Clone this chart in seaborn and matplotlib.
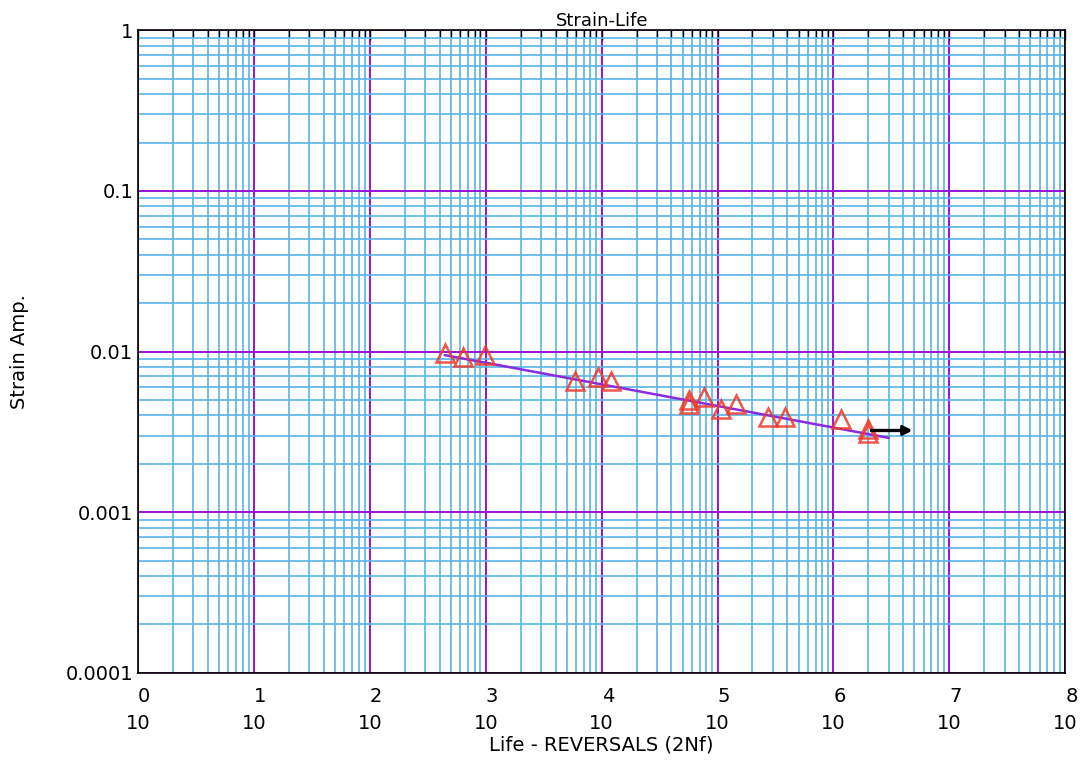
import numpy as np
import pandas as pd
import matplotlib
matplotlib.use('Agg')
import matplotlib.pyplot as plt
import seaborn as sns
from matplotlib.ticker import LogLocator, FixedLocator, FixedFormatter, NullFormatter

# test data
reversals = [443, 632, 980, 5850, 9300, 12000, 57000, 57000, 76000, 108000,
             145000, 270000, 385000, 1.17e6, 2.0e6, 2.0e6]
strain_amp = [0.0098, 0.0092, 0.0095, 0.0066, 0.0069, 0.0066, 0.0050, 0.0047,
              0.0052, 0.0044, 0.0047, 0.0039, 0.0039, 0.0038, 0.0033, 0.0031]

# runouts (arrows)
runout_n = [2.0e6, 2.0e6]
runout_e = [0.00325, 0.0032]

# fitted curve end points
fit_n = [443, 3.0e6]
fit_e = [0.0095, 0.0029]

x_ticks = [10.0 ** k for k in range(0, 9)]
x_labels = ['%d\n10' % k for k in range(0, 9)]
y_ticks = [1e-4, 1e-3, 1e-2, 1e-1, 1]
y_labels = ['0.0001', '0.001', '0.01', '0.1', '1']

sns.set_style('white')
plt.rcParams['font.family'] = ['DejaVu Sans']
plt.rcParams['text.color'] = 'black'
plt.rcParams['axes.labelcolor'] = 'black'

fig, ax = plt.subplots(figsize=(10.87, 7.76), dpi=100)
fig.subplots_adjust(left=0.127, right=0.98, top=0.961, bottom=0.133)

ax.set_xscale('log')
ax.set_yscale('log')
ax.set_xlim(1, 1e8)
ax.set_ylim(1e-4, 1)

ax.xaxis.set_major_locator(FixedLocator(x_ticks))
ax.xaxis.set_major_formatter(FixedFormatter(x_labels))
ax.xaxis.set_minor_locator(LogLocator(base=10, subs=np.arange(2, 10), numticks=20))
ax.xaxis.set_minor_formatter(NullFormatter())
ax.yaxis.set_major_locator(FixedLocator(y_ticks))
ax.yaxis.set_major_formatter(FixedFormatter(y_labels))
ax.yaxis.set_minor_locator(LogLocator(base=10, subs=np.arange(2, 10), numticks=20))
ax.yaxis.set_minor_formatter(NullFormatter())

ax.grid(which='minor', color='#5ab4e6', linewidth=1.2, zorder=1)
ax.grid(which='major', color='#9a12d6', linewidth=1.4, zorder=1)
ax.set_axisbelow(True)

ax.tick_params(which='both', direction='in', top=True, right=False, length=5,
               width=1, labelsize=14, colors='black')
ax.tick_params(which='major', length=7)
ax.tick_params(axis='x', pad=10)
for lab in ax.get_xticklabels():
    lab.set_multialignment('right')
    lab.set_linespacing(1.55)

for s in ax.spines.values():
    s.set_color('black')
    s.set_linewidth(1.2)

sns.lineplot(x=fit_n, y=fit_e, ax=ax, color='#8a2be2', linewidth=1.8, zorder=3)

df = pd.DataFrame({'N': reversals, 'e': strain_amp})
ax.plot(df['N'], df['e'], linestyle='none', marker='^', markersize=13,
        markerfacecolor='none', markeredgecolor='#ee3a2a', markeredgewidth=1.8,
        alpha=0.85, zorder=4)

for n, e in zip(runout_n, runout_e):
    ax.annotate('', xy=(n * 2.5, e), xytext=(n, e),
                arrowprops=dict(arrowstyle='-|>', color='black', lw=1.6,
                                mutation_scale=14), zorder=5)

ax.set_title('Strain-Life', fontsize=13, pad=3, color='black')
ax.set_xlabel('Life - REVERSALS (2Nf)', fontsize=14, labelpad=2)
ax.set_ylabel('Strain Amp.', fontsize=14, labelpad=26)

fig.savefig('out.png', dpi=100)
